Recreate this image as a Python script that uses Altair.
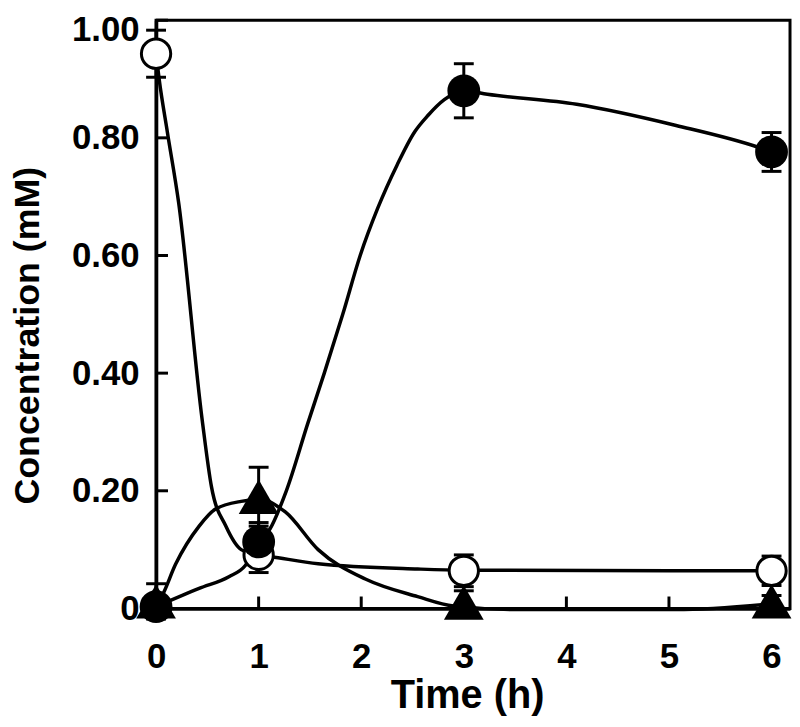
import altair as alt
import pandas as pd

time = [0, 1, 3, 6]
open_mean = [0.943, 0.091, 0.064, 0.064]
open_err = [0.04, 0.03, 0.027, 0.025]
filled_mean = [0.003, 0.113, 0.88, 0.776]
filled_err = [0.005, 0.033, 0.046, 0.033]
tri_mean = [0.012, 0.19, 0.01, 0.012]
tri_err = [0.03, 0.05, 0.02, 0.01]

# ---- fitted curves ----
open_fit_t = [0, 0.03, 0.11, 0.22, 0.45, 0.54, 0.68, 0.83, 1.0, 1.12, 1.58, 2.55, 3.0, 5.07, 6.0]
open_fit_v = [0.943, 0.90, 0.81, 0.69, 0.32, 0.207, 0.14, 0.10, 0.091, 0.088, 0.076, 0.067, 0.065, 0.064, 0.064]
filled_fit_t = [0, 0.42, 0.71, 0.87, 1.0, 1.11, 1.27, 1.48, 1.64, 1.82, 1.99, 2.16, 2.35, 2.52, 2.65, 2.81, 3.0, 3.23, 4.1, 5.07, 5.87, 6.0]
filled_fit_v = [0.003, 0.034, 0.054, 0.073, 0.113, 0.135, 0.2, 0.315, 0.4, 0.5, 0.6, 0.68, 0.754, 0.81, 0.838, 0.865, 0.88, 0.874, 0.857, 0.821, 0.784, 0.776]
tri_fit_t = [0, 0.06, 0.19, 0.42, 0.58, 0.83, 1.02, 1.26, 1.58, 2.04, 2.55, 2.9, 3.5, 5.07, 6.0]
tri_fit_v = [0.005, 0.022, 0.075, 0.14, 0.169, 0.182, 0.185, 0.164, 0.10, 0.05, 0.02, 0.004, -0.002, -0.002, 0.008]

x_ticks = [0, 1, 2, 3, 4, 5, 6]
y_ticks = [0, 0.2, 0.4, 0.6, 0.8, 1.0]

W, H = 638, 592
FONT = "Liberation Sans"

x_scale = alt.Scale(domain=[0, 6.18], nice=False, zero=False)
y_scale = alt.Scale(domain=[0, 1.0], nice=False, zero=False)

ax_x = alt.Axis(values=x_ticks, format="d", title="Time (h)", grid=False, ticks=False,
                tickSize=0, labelPadding=31, labelFlush=False, labelOverlap=False,
                titleFontSize=40,
                titleX=313, titleY=100, titleBaseline="alphabetic", titleAnchor="middle")
ax_y = alt.Axis(values=y_ticks, title="Concentration (mM)", grid=False, ticks=False,
                tickSize=0, labelPadding=17, labelFlush=False, labelOverlap=False,
                labelOffset={"condition": {"test": "datum.value == 1", "value": 9}, "value": 0},
                labelExpr="datum.value == 0 ? '0' : format(datum.value, '.2f')",
                titleFontSize=36,
                titleX=-118, titleY=317, titleBaseline="alphabetic", titleAngle=-90,
                titleAnchor="middle")


def X(f):
    return alt.X(f, type="quantitative", scale=x_scale, axis=ax_x)


def Y(f):
    return alt.Y(f, type="quantitative", scale=y_scale, axis=ax_y)


fits = pd.concat([
    pd.DataFrame({"t": open_fit_t, "v": open_fit_v, "s": "open"}),
    pd.DataFrame({"t": filled_fit_t, "v": filled_fit_v, "s": "filled"}),
    pd.DataFrame({"t": tri_fit_t, "v": tri_fit_v, "s": "tri"}),
])


def pts_df(mean, err, name):
    return pd.DataFrame({"t": time, "v": mean,
                         "lo": [m - e for m, e in zip(mean, err)],
                         "hi": [m + e for m, e in zip(mean, err)], "s": name})


open_df = pts_df(open_mean, open_err, "open")
filled_df = pts_df(filled_mean, filled_err, "filled")
tri_df = pts_df(tri_mean, tri_err, "tri")
all_pts = pd.concat([open_df, filled_df, tri_df])
caps = pd.concat([
    all_pts[["t", "lo"]].rename(columns={"lo": "c"}),
    all_pts[["t", "hi"]].rename(columns={"hi": "c"}),
])

curves = alt.Chart(fits).mark_line(color="black", strokeWidth=3.5, interpolate="monotone").encode(
    x=X("t"), y=Y("v"), detail="s:N")

bars = alt.Chart(all_pts).mark_rule(color="black", strokeWidth=3).encode(
    x=X("t"), y=Y("lo"), y2="hi")
cap_marks = alt.Chart(caps).mark_tick(color="black", orient="horizontal", size=20,
                                      thickness=3, opacity=1).encode(x=X("t"), y=Y("c"))

open_pts = alt.Chart(open_df).mark_point(shape="circle", size=870, filled=True, fill="white",
                                         stroke="black", strokeWidth=3, opacity=1).encode(
    x=X("t"), y=Y("v"))
filled_pts = alt.Chart(filled_df).mark_point(shape="circle", size=1090, filled=True,
                                             color="black", opacity=1).encode(
    x=X("t"), y=Y("v"))
tri_pts = alt.Chart(tri_df).mark_point(shape="triangle-up", size=1600, filled=True,
                                       color="black", opacity=1).encode(
    x=X("t"), y=Y("v"))

xt = alt.Chart(pd.DataFrame({"tx": x_ticks[1:]})).mark_rule(color="black", strokeWidth=3).encode(
    x=X("tx"), y=alt.value(H - 12), y2=alt.value(H))
yt = alt.Chart(pd.DataFrame({"ty": y_ticks[1:]})).mark_rule(color="black", strokeWidth=3).encode(
    y=Y("ty"), x=alt.value(0), x2=alt.value(12))

chart = alt.layer(xt, yt, curves, bars, cap_marks, open_pts, filled_pts, tri_pts).properties(
    width=W, height=H,
    autosize=alt.AutoSizeParams(type="none"),
    padding={"left": 149, "top": 10, "right": 2, "bottom": 109},
).configure_view(
    stroke="black", strokeWidth=3
).configure_axis(
    domainColor="black", domainWidth=3.5, labelColor="black", titleColor="black",
    labelFont=FONT, titleFont=FONT, labelFontSize=35,
    labelFontWeight="bold", titleFontWeight="bold"
)

chart.save("out.html", embed_options={"renderer": "svg", "actions": False})
